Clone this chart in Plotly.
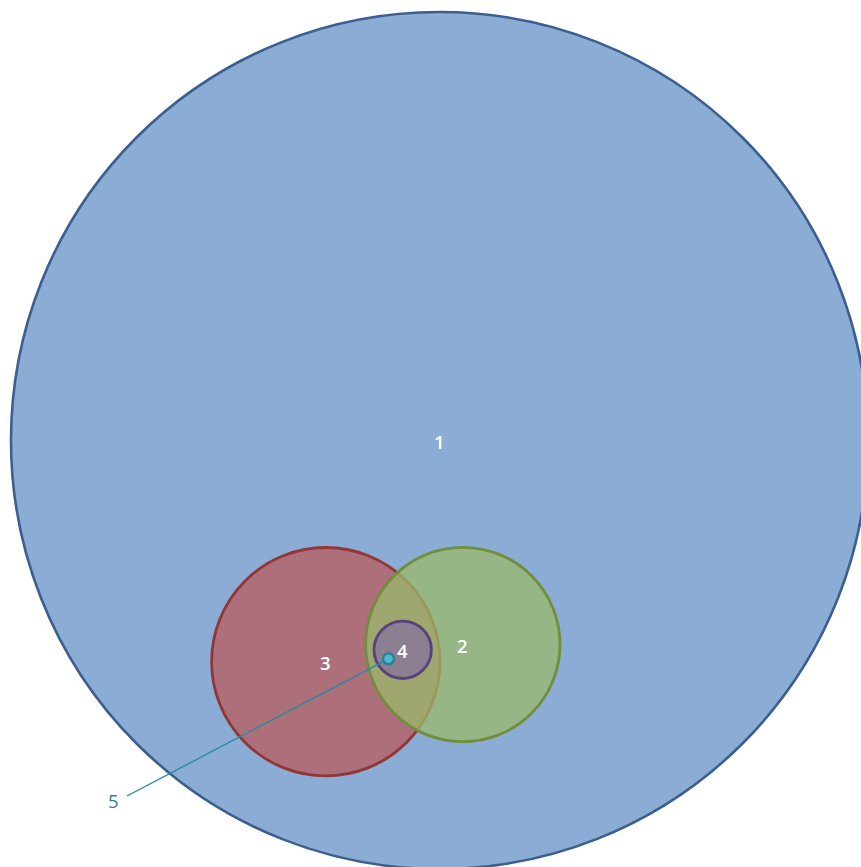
import plotly.graph_objects as go

# Venn sets (layout in chart pixel units)
set_names = ["1", "2", "3", "4", "5"]
center_x = [439.5, 462.8, 325.8, 402.7, 388.5]
center_y = [440.5, 644.5, 661.7, 649.8, 658.8]
radius = [428.5, 97.2, 114.2, 28.7, 5.4]

fill_colors = ["rgba(139,172,212,1)", "rgba(155,185,108,0.75)", "rgba(184,91,91,0.75)",
               "rgba(132,114,156,0.75)", "rgba(80,186,210,1)"]
line_colors = ["#3D5F8F", "#728E3C", "#923636", "#58427C", "#2A7F98"]
line_widths = [2.6, 2.8, 2.8, 2.8, 2.4]
draw_order = [0, 2, 1, 3, 4]

W, H = 861, 867

fig = go.Figure()
fig.add_trace(go.Scatter(x=[0, W], y=[0, H], mode="markers",
                         marker=dict(opacity=0), hoverinfo="skip", showlegend=False))

shapes = []
for i in draw_order:
    shapes.append(dict(
        type="circle", xref="x", yref="y",
        x0=center_x[i] - radius[i], x1=center_x[i] + radius[i],
        y0=center_y[i] - radius[i], y1=center_y[i] + radius[i],
        fillcolor=fill_colors[i],
        line=dict(color=line_colors[i], width=line_widths[i]),
        layer="above",
    ))

label5_pos = (113, 800)
shapes.insert(len(shapes) - 1, dict(type="line", xref="x", yref="y",
                   x0=label5_pos[0] + 14, y0=label5_pos[1] - 4,
                   x1=center_x[4], y1=center_y[4],
                   line=dict(color="#2E8A9E", width=1.4), layer="above"))

annotations = []
for i in range(4):
    annotations.append(dict(
        x=center_x[i], y=center_y[i] + 1,
        xref="x", yref="y", text=set_names[i], showarrow=False,
        font=dict(family="Open Sans", size=18.5, color="white", weight=600)))
annotations.append(dict(
    x=label5_pos[0], y=label5_pos[1], xref="x", yref="y", text=set_names[4],
    showarrow=False, font=dict(family="Open Sans", size=18.5, color="#2E8196")))

fig.update_layout(
    width=W, height=H,
    margin=dict(l=0, r=0, t=0, b=0),
    paper_bgcolor="white", plot_bgcolor="white",
    xaxis=dict(range=[0, W], visible=False, fixedrange=True),
    yaxis=dict(range=[H, 0], visible=False, fixedrange=True),
    shapes=shapes, annotations=annotations,
    showlegend=False,
)

fig.write_html("out.html", config={"displayModeBar": False},
               post_script="document.body.style.margin='0';document.body.style.overflow='hidden';")
